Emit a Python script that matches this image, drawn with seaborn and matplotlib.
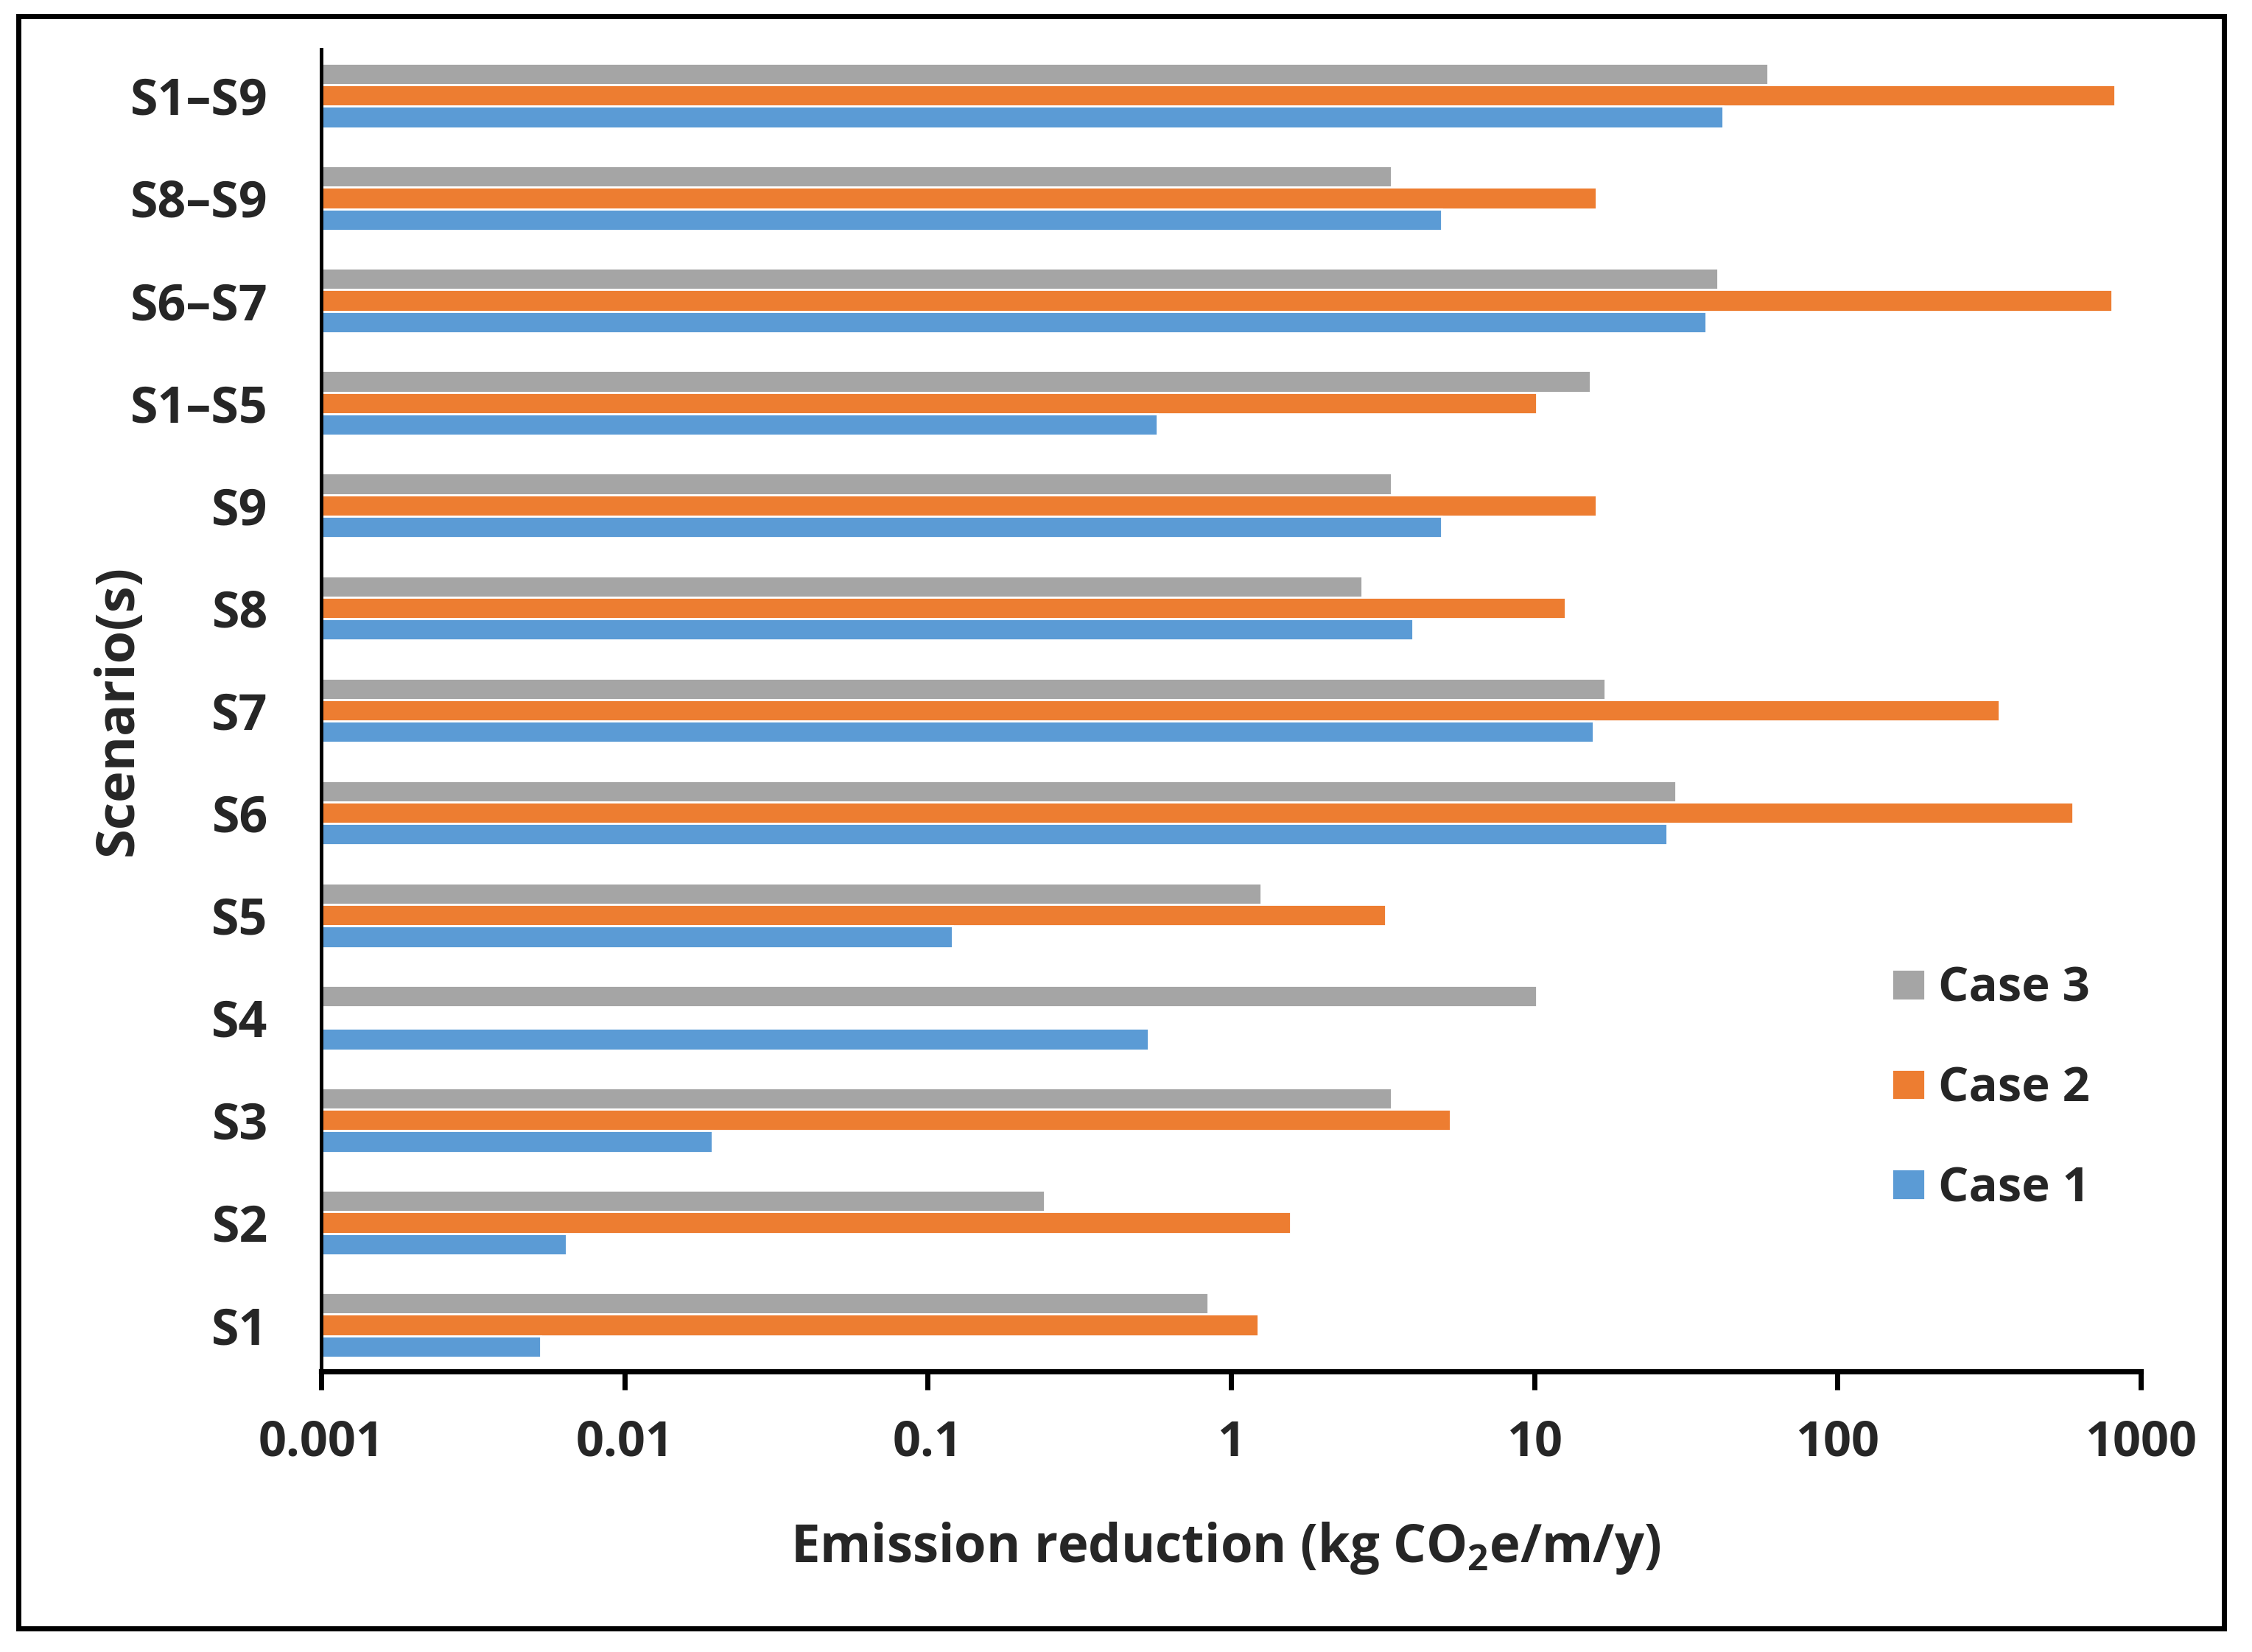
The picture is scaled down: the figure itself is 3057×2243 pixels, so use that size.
import numpy as np
import pandas as pd
import seaborn as sns
import matplotlib.pyplot as plt
from matplotlib.patches import Rectangle

# values (kg CO2e/m/y)
scenarios = ["S1–S9", "S8–S9", "S6–S7", "S1–S5", "S9", "S8", "S7",
             "S6", "S5", "S4", "S3", "S2", "S1"]
case1 = [42, 4.96, 36.9, 0.571, 4.96, 3.98, 15.7, 27.4, 0.121, 0.536, 0.0195, 0.00645, 0.0053]
case2 = [820, 16.0, 803, 10.2, 16.0, 12.7, 341, 597, 3.23, np.nan, 5.29, 1.57, 1.23]
case3 = [59, 3.38, 40.3, 15.3, 3.38, 2.71, 17.1, 29.3, 1.26, 10.2, 3.38, 0.243, 0.84]
cases = ["Case 3", "Case 2", "Case 1"]
colors = {"Case 1": "#5B9BD5", "Case 2": "#ED7D31", "Case 3": "#A5A5A5"}

df = pd.DataFrame({"scenario": scenarios, "Case 1": case1, "Case 2": case2, "Case 3": case3})
df = df.melt(id_vars="scenario", var_name="case", value_name="reduction")

sns.set_style("white")
plt.rcParams["font.family"] = ["Open Sans", "DejaVu Sans"]
plt.rcParams["font.weight"] = "bold"
plt.rcParams["mathtext.fontset"] = "custom"
plt.rcParams["mathtext.rm"] = "Open Sans:bold"
plt.rcParams["mathtext.bf"] = "Open Sans:bold"

fig = plt.figure(figsize=(15.285, 11.215), dpi=200)
ax = fig.add_axes([0.1426, 0.1700, 0.8080, 0.8000])

sns.barplot(data=df, x="reduction", y="scenario", hue="case", hue_order=cases,
            order=scenarios, palette=colors, orient="h", width=0.63,
            errorbar=None, saturation=1, ax=ax)

ax.set_xscale("log")
ax.set_xlim(0.001, 1000)
ax.set_ylim(12.45, -0.45)
ax.set_xticks([0.001, 0.01, 0.1, 1, 10, 100, 1000])
ax.set_xticklabels(["0.001", "0.01", "0.1", "1", "10", "100", "1000"])
ax.minorticks_off()

for s in ["top", "right"]:
    ax.spines[s].set_visible(False)
ax.spines["left"].set_linewidth(1.8)
ax.spines["bottom"].set_linewidth(2.6)
ax.spines["left"].set_color("black")
ax.spines["bottom"].set_color("black")

ax.tick_params(axis="x", which="major", bottom=True, length=9, width=2.5,
               pad=14, labelsize=24, color="black")
ax.tick_params(axis="y", length=0, pad=26, labelsize=24.5)

ax.set_xlabel("Emission reduction (kg CO$\\mathrm{_2}$e/m/y)", fontsize=25.4, fontweight="bold")
ax.xaxis.set_label_coords(0.497, -0.113)
ax.set_ylabel("Scenario(s)", fontsize=26, fontweight="bold")
ax.yaxis.set_label_coords(-0.097, 0.5)

handles, labels = ax.get_legend_handles_labels()
ax.legend(handles=handles, labels=labels, loc="center left",
          bbox_to_anchor=(2568 / 3057, 1 - 1479 / 2243), bbox_transform=fig.transFigure,
          frameon=False, fontsize=23.5, handlelength=0.69, handleheight=0.6,
          handletextpad=0.28, labelspacing=1.08, borderpad=0, borderaxespad=0)

# outer frame around the whole chart
fig.add_artist(Rectangle((0.00834, 0.01427), 0.97923, 0.97592, transform=fig.transFigure,
                         fill=False, lw=2.5, ec="black"))

plt.savefig("out.png", dpi=200)
